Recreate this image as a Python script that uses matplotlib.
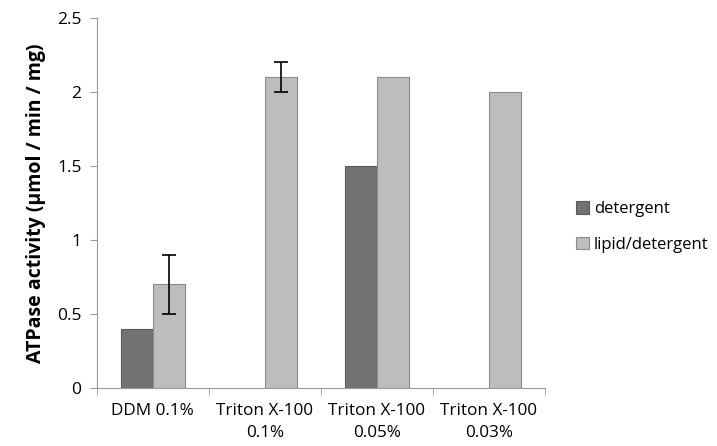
import numpy as np
import matplotlib.pyplot as plt

categories = ["DDM 0.1%", "Triton X-100\n0.1%", "Triton X-100\n0.05%", "Triton X-100\n0.03%"]
detergent = [0.4, np.nan, 1.5, np.nan]
lipid_detergent = [0.7, 2.1, 2.1, 2.0]
lipid_err = [0.2, 0.1, 0, 0]

plt.rcParams['font.family'] = ['Open Sans', 'DejaVu Sans']

fig = plt.figure(figsize=(7.17, 4.46), dpi=100)
ax = fig.add_axes([0.135, 0.13, 0.625, 0.83])

x = np.arange(len(categories))
width = 0.286
ax.bar(x - width/2, detergent, width, color="#727272", edgecolor="#5a5a5a",
       linewidth=0.8, label="detergent")
ax.bar(x + width/2, lipid_detergent, width, color="#bdbdbd", edgecolor="#8a8a8a",
       linewidth=0.8, label="lipid/detergent")
err = np.array(lipid_err, dtype=float)
mask = err > 0
ax.errorbar((x + width/2)[mask], np.array(lipid_detergent)[mask], yerr=err[mask],
            fmt="none", ecolor="black", elinewidth=1.2, capsize=5, capthick=1.2)

ax.set_xlim(-0.5, len(categories) - 0.5)
ax.set_ylim(0, 2.5)
ax.set_yticks([0, 0.5, 1, 1.5, 2, 2.5])
ax.set_yticklabels(["0", "0.5", "1", "1.5", "2", "2.5"])
ax.set_xticks(x)
ax.set_xticklabels(categories, fontsize=12.3, linespacing=1.5)
ax.set_xticks(np.arange(len(categories) + 1) - 0.5, minor=True)
ax.tick_params(axis="x", which="major", length=0, pad=11)
ax.tick_params(axis="x", which="minor", length=5, color="#999999", direction="out")
ax.tick_params(axis="y", length=5, color="#999999", labelsize=12.5, pad=6)
ax.set_ylabel("ATPase activity (μmol / min / mg)", fontsize=14, fontweight="bold", labelpad=8)

for side in ["top", "right"]:
    ax.spines[side].set_visible(False)
for side in ["left", "bottom"]:
    ax.spines[side].set_color("#999999")

ax.legend(loc="center left", bbox_to_anchor=(1.035, 0.435), frameon=False, fontsize=12,
          handlelength=0.8, handleheight=0.8, handletextpad=0.3, labelspacing=1.15)

fig.savefig("out.png", dpi=100)
